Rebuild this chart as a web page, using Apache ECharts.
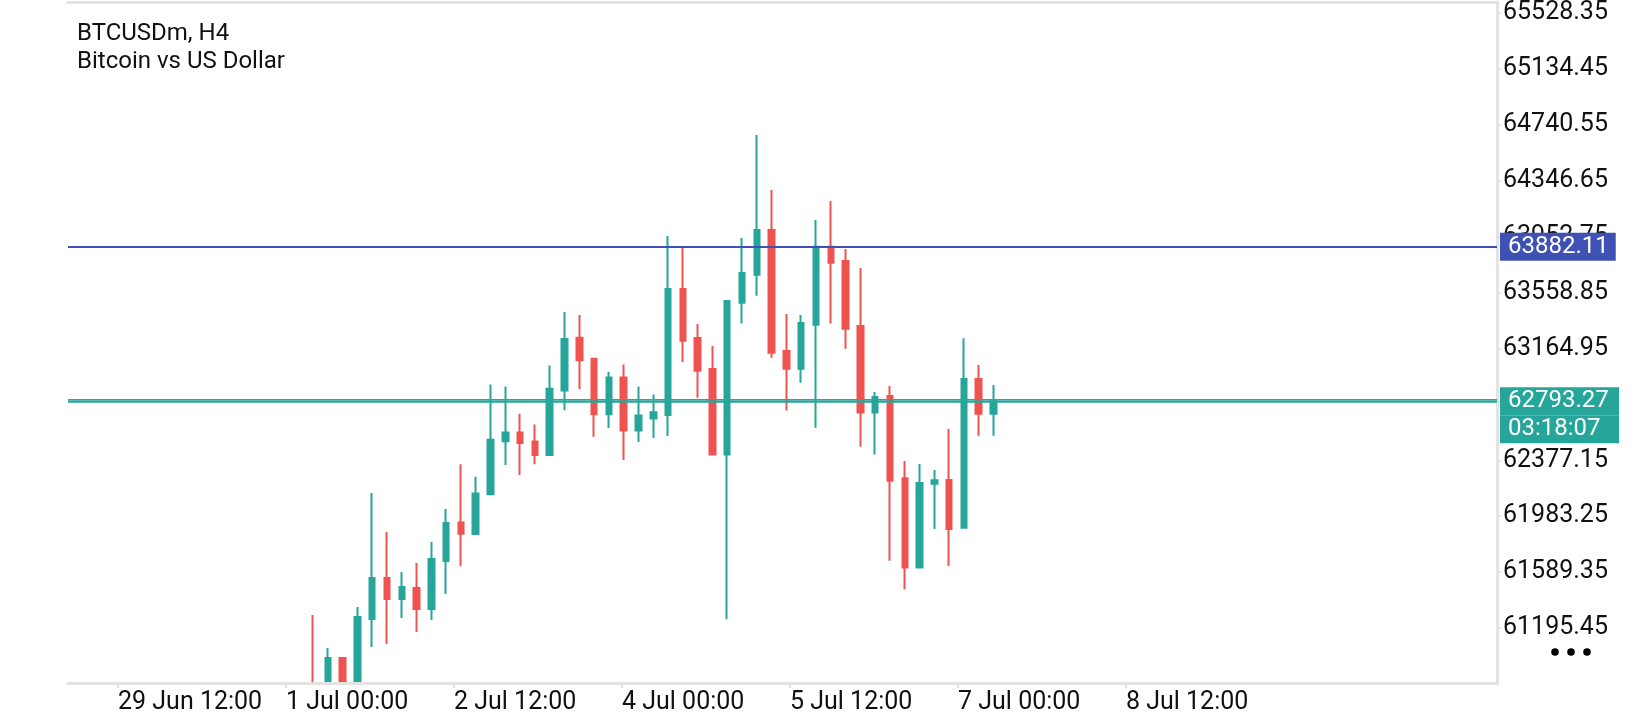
<!DOCTYPE html>
<html>
<head>
<meta charset="utf-8">
<title>BTCUSDm, H4</title>
<script src="https://cdn.jsdelivr.net/npm/echarts@6/dist/echarts.min.js"></script>
<style>
html,body{margin:0;padding:0;background:#fff;}
#chartmain{width:1640px;height:720px;}
</style>
</head>
<body>
<div id="chartmain"></div>
<script>
// H4 candles (bar index 0..46)
var openP  = [60790,60760,60984,60780,61259,61548,61400,61478,61330,61668,
              61939,61857,62138,62512,62572,62510,62414,62868,63240,63092,
              62701,62961,62587,62672,62696,63584,63239,63020,62417,63487,
              63685,64000,63147,63022,63332,63882,63781,63323,62713,62830,
              62250,61621,62212,62238,61902,62950,62705];
var closeP = [60650,60984,60780,61273,61548,61400,61485,61330,61682,61935,
              61859,62143,62522,62572,62499,62414,62881,63232,63082,62701,
              62961,62587,62693,62715,63584,63220,63008,62417,63499,63697,
              64000,63135,63022,63344,63882,63769,63304,62713,62823,62233,
              61621,62217,62236,61893,62950,62705,62793.27];
var lowP   = [60550,60700,60720,60750,61062,61083,61266,61168,61252,61435,
              61630,61850,62130,62343,62274,62349,62410,62730,62879,62542,
              62605,62379,62505,62534,62548,63070,62818,62410,61257,63340,
              63537,63100,62727,62924,62607,63340,63163,62473,62417,61670,
              61468,61615,61893,61633,61895,62550,62550];
var highP  = [61287,61055,60990,61344,62147,61872,61590,61654,61802,62034,
              62349,62261,62911,62896,62705,62630,63044,63421,63401,63095,
              63001,63052,62896,62841,63957,63873,63337,63182,63506,63943,
              64669,64281,63408,63401,64070,64204,63866,63732,62858,62901,
              62372,62351,62309,62598,63237,63049,62908];

// price lines
var levelPrice = 63882.11;
var bidPrice = 62793.27;
var askPrice = 62803.8;
var barTimer = '03:18:07';

// axis ticks
var yTicks = [61195.45,61589.35,61983.25,62377.15,62771.05,63164.95,
              63558.85,63952.75,64346.65,64740.55,65134.45,65528.35];
var xTickPos = [-13.18,-1.825,9.53,20.885,32.24,43.6,54.95];
var xTickLabels = ['29 Jun 12:00','1 Jul 00:00','2 Jul 12:00','4 Jul 00:00',
                   '5 Jul 12:00','7 Jul 00:00','8 Jul 12:00'];

var xMin = -16.56, xMax = 80.03;
var yMin = 60807.9, yMax = 65605.86;

var candles = [];
for (var i = 0; i < openP.length; i++) {
  candles.push([i, openP[i], closeP[i], lowP[i], highP[i]]);
}

var UP = '#26a69a', DOWN = '#ef5350', BLUE = '#3f51b5', FRAME = '#e3e3e3';
var FONT = 'Roboto';

var myChart = echarts.init(document.getElementById('chartmain'));
myChart.setOption({
  animation: false,
  backgroundColor: '#fff',
  title: {
    text: 'BTCUSDm, H4\nBitcoin vs US Dollar',
    left: 77, top: 20, padding: 0,
    textStyle: {fontFamily: FONT, fontSize: 24, fontWeight: 'normal', color: '#111', lineHeight: 28}
  },
  grid: {left: 68, right: 143, top: 2, bottom: 37},
  xAxis: [{
    type: 'value', min: xMin, max: xMax, position: 'bottom', z: 10,
    axisLine: {onZero: false, lineStyle: {color: FRAME, width: 3}},
    axisTick: {show: true, customValues: xTickPos, length: 5, lineStyle: {color: FRAME, width: 2}},
    axisLabel: {
      customValues: xTickPos, align: 'left', margin: 7,
      fontFamily: FONT, fontSize: 25, color: '#111',
      formatter: function (v) {
        for (var k = 0; k < xTickPos.length; k++) {
          if (Math.abs(xTickPos[k] - v) < 0.01) return xTickLabels[k];
        }
        return '';
      }
    },
    splitLine: {show: false}
  }, {
    type: 'value', min: xMin, max: xMax, position: 'top',
    axisLine: {show: true, onZero: false, lineStyle: {color: FRAME, width: 3}},
    axisTick: {show: false}, axisLabel: {show: false}, splitLine: {show: false}
  }],
  yAxis: {
    type: 'value', position: 'right', min: yMin, max: yMax, scale: true,
    axisLine: {show: true, onZero: false, lineStyle: {color: FRAME, width: 3}},
    axisTick: {show: true, customValues: yTicks, length: 4, lineStyle: {color: FRAME, width: 2}},
    axisLabel: {
      customValues: yTicks, margin: 6,
      fontFamily: FONT, fontSize: 25, color: '#111',
      formatter: function (v) { return v.toFixed(2); }
    },
    splitLine: {show: false}
  },
  series: [{
    type: 'candlestick',
    xAxisIndex: 0,
    data: candles,
    barWidth: 6,
    clip: true,
    itemStyle: {color: UP, color0: DOWN, borderColor: UP, borderColor0: DOWN, borderWidth: 2},
    markLine: {
      silent: true,
      symbol: ['none', 'none'],
      data: [
        {yAxis: levelPrice, lineStyle: {color: BLUE, width: 2, type: 'solid'},
         label: {show: true, position: 'end', distance: 3, formatter: levelPrice.toFixed(2),
                 color: '#fff', backgroundColor: BLUE, padding: [3, 7, 3, 8],
                 fontFamily: FONT, fontSize: 24, lineHeight: 22}},
        {yAxis: askPrice, lineStyle: {color: DOWN, width: 1.2, type: 'solid'}, label: {show: false}},
        {yAxis: bidPrice, lineStyle: {color: UP, width: 2.5, type: 'solid'},
         label: {show: true, position: 'end', distance: 3,
                 formatter: '{e| }\n{p|' + bidPrice.toFixed(2) + '}\n{t|' + barTimer + '}',
                 rich: {
                   e: {height: 28, lineHeight: 28, fontSize: 22},
                   p: {backgroundColor: UP, color: '#fff', fontFamily: FONT, fontSize: 24,
                       height: 28, lineHeight: 28, width: 104, padding: [0, 7, 0, 8]},
                   t: {backgroundColor: UP, color: '#fff', fontFamily: FONT, fontSize: 24,
                       height: 28, lineHeight: 28, width: 104, padding: [0, 7, 0, 8]}
                 }}}
      ]
    }
  }],
  graphic: [
    // white strip under the plot hides candle parts below the price range
    {type: 'rect', z: 5, shape: {x: 0, y: 684.5, width: 1497, height: 40}, style: {fill: '#fff'}},
    {type: 'circle', shape: {cx: 1555, cy: 652, r: 3.8}, style: {fill: '#000'}},
    {type: 'circle', shape: {cx: 1571, cy: 652, r: 3.8}, style: {fill: '#000'}},
    {type: 'circle', shape: {cx: 1587, cy: 652, r: 3.8}, style: {fill: '#000'}}
  ]
});
</script>
</body>
</html>
